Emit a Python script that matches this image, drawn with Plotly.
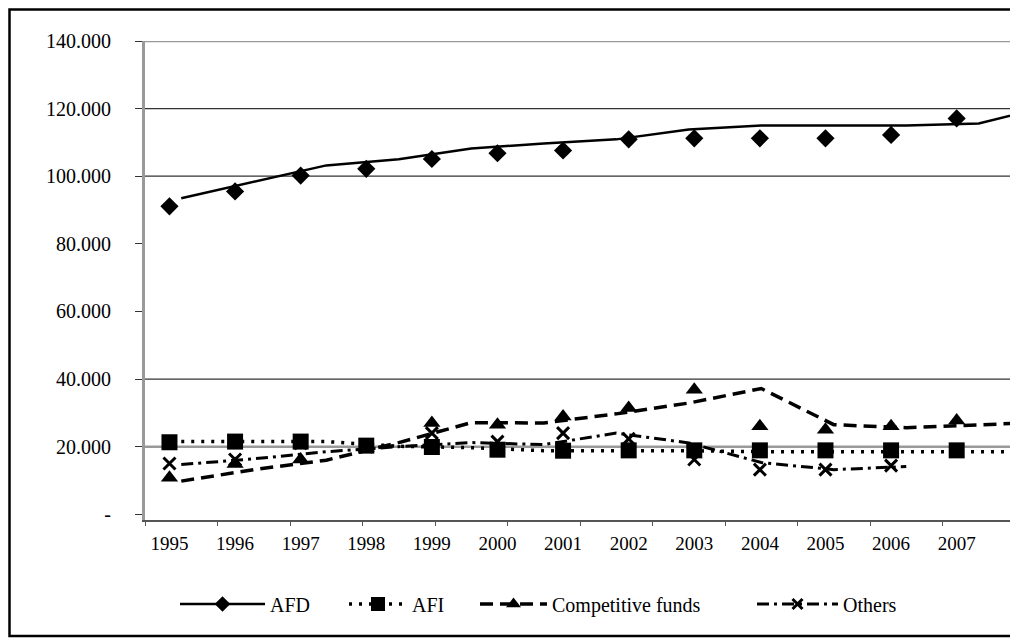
import plotly.graph_objects as go

# ---- data ----
years = ["1995", "1996", "1997", "1998", "1999", "2000", "2001",
         "2002", "2003", "2004", "2005", "2006", "2007"]
series_names = ["AFD", "AFI", "Competitive funds", "Others"]

# values shown by the markers (one per year)
afd_markers = [91.1, 95.5, 100.2, 102.2, 105.1, 106.8, 107.6, 110.9, 111.2, 111.2, 111.2, 112.2, 117.1]
afi_markers = [21.3, 21.5, 21.5, 20.3, 19.9, 19.1, 18.8, 18.9, 18.9, 18.9, 18.9, 18.9, 18.9]
comp_markers = [10.8, 14.9, 16.2, 19.6, 27.0, 26.5, 28.9, 31.4, 36.8, 26.0, 25.0, 26.0, 27.7]
others_markers = [15.0, 16.2, 21.0, 20.0, 24.0, 21.5, 24.0, 22.3, 16.2, 13.2, 13.2, 14.4, None]

# values traced by the connecting lines (drawn on the tick-category axis)
afd_line = [93.5, 98.4, 103.2, 105.0, 108.2, 109.7, 110.9, 113.8, 115.0, 115.0, 115.0, 115.6, 120.9]
afi_line = [21.5, 21.5, 21.5, 20.1, 19.7, 18.8, 18.8, 18.8, 18.5, 18.5, 18.5, 18.5, 18.5]
comp_line = [9.8, 13.2, 16.0, 21.2, 27.1, 27.0, 29.7, 32.9, 37.2, 26.5, 25.6, 26.5, 27.3]
others_line = [14.7, 16.4, 18.5, 20.0, 21.2, 20.6, 24.0, 21.1, 15.3, 13.2, 14.1]

y_tickvals = [0, 20, 40, 60, 80, 100, 120, 140]
y_ticktext = ["-", "20.000", "40.000", "60.000", "80.000", "100.000", "120.000", "140.000"]
grid_dark = [40, 100, 120]
grid_light = [20, 140]

# ---- styles ----
FONT = "Liberation Serif, Times New Roman, DejaVu Serif, serif"
styles = {
    "AFD": dict(dash="solid", width=2.5, symbol="diamond", size=14, lw=0),
    "AFI": dict(dash="3px,7px", width=3.5, symbol="square", size=16, lw=0),
    "Competitive funds": dict(dash="13px,7px", width=3.5, symbol="triangle-up", size=15, lw=0),
    "Others": dict(dash="12px,5px,3px,5px", width=3, symbol="x-thin", size=12, lw=3),
}
# legend layout: left edge of each entry (page px) and width of its symbol sample
legend_left_px = {"AFD": 175, "AFI": 344, "Competitive funds": 475, "Others": 752}
legend_symbol_w = {"AFD": 85, "AFI": 58, "Competitive funds": 67, "Others": 81}

marker_data = dict(zip(series_names, [afd_markers, afi_markers, comp_markers, others_markers]))
line_data = dict(zip(series_names, [afd_line, afi_line, comp_line, others_line]))

fig = go.Figure()

# connecting lines
for name in series_names:
    st = styles[name]
    vals = line_data[name]
    fig.add_trace(go.Scatter(
        x=list(range(len(vals))), y=vals, mode="lines",
        line=dict(color="black", width=st["width"], dash=st["dash"]),
        xaxis="x", yaxis="y", showlegend=False, hoverinfo="skip"))

# markers
for name in series_names:
    st = styles[name]
    fig.add_trace(go.Scatter(
        x=years, y=marker_data[name], mode="markers",
        marker=dict(symbol=st["symbol"], size=st["size"], color="black",
                    line=dict(color="black", width=st["lw"])),
        xaxis="x2", yaxis="y", showlegend=False, name=name))

# legend entries, one legend box per series so each can be placed like the original
legend_ids = ["legend", "legend2", "legend3", "legend4"]
for name, lid in zip(series_names, legend_ids):
    st = styles[name]
    fig.add_trace(go.Scatter(
        x=[None], y=[None], mode="lines+markers", name=name, legend=lid,
        line=dict(color="black", width=st["width"], dash=st["dash"]),
        marker=dict(symbol=st["symbol"], size=st["size"] - 2, color="black",
                    line=dict(color="black", width=st["lw"])),
        xaxis="x", yaxis="y"))

n_cat = len(years)
PW, PH = 870, 479          # plot area size in px
ML, MT = 137, 33           # plot area offset inside the figure
PAGE = 8                   # page body margin

shapes = []
for v in grid_dark:
    shapes.append(dict(type="line", xref="paper", x0=0, x1=1, yref="y", y0=v, y1=v,
                       line=dict(color="#333333", width=1.3), layer="below"))
for v in grid_light:
    shapes.append(dict(type="line", xref="paper", x0=0, x1=1, yref="y", y0=v, y1=v,
                       line=dict(color="#999999", width=2.5), layer="below"))
# outer frame
shapes.append(dict(type="rect", xref="paper", yref="paper",
                   x0=(1.5 - ML) / PW, x1=(1008 - ML) / PW,
                   y0=(MT + PH - 628) / PH, y1=(MT + PH - 1.5) / PH,
                   line=dict(color="black", width=2.5)))

legend_common = dict(orientation="h", yanchor="middle", xanchor="left",
                     y=(MT + PH - (604 - PAGE)) / PH,
                     font=dict(family=FONT, size=20, color="black"),
                     bgcolor="rgba(0,0,0,0)", borderwidth=0)
legends = {}
for name, lid in zip(series_names, legend_ids):
    legends[lid] = dict(legend_common, itemwidth=legend_symbol_w[name],
                        x=(legend_left_px[name] - PAGE - ML) / PW)

fig.update_layout(
    width=1010, height=635,
    margin=dict(l=ML, r=3, t=MT, b=123),
    paper_bgcolor="white", plot_bgcolor="white",
    font=dict(family=FONT, size=20, color="black"),
    showlegend=True,
    xaxis=dict(range=[-0.5, n_cat - 1.5], tickvals=[i - 0.5 for i in range(n_cat)],
               showticklabels=False, ticks="outside", ticklen=4, tickcolor="#555555",
               showgrid=False, zeroline=False, showline=True, linecolor="#555555", linewidth=2),
    xaxis2=dict(overlaying="x", anchor="y", side="bottom",
                range=[-0.373, n_cat - 1 + 0.889], type="category",
                tickvals=years, ticktext=years, ticks="", showgrid=False, zeroline=False,
                showline=False, tickfont=dict(family=FONT, size=19, color="black"),
                ticklabelstandoff=10),
    yaxis=dict(range=[-1.7, 140], tickvals=y_tickvals, ticktext=y_ticktext,
               ticks="outside", ticklen=7, tickcolor="#333333", showgrid=False,
               zeroline=False, showline=True, linecolor="#999999", linewidth=3,
               tickfont=dict(family=FONT, size=20, color="black"), ticklabelstandoff=20),
    shapes=shapes,
    **legends,
)

fig.write_html("out.html")
